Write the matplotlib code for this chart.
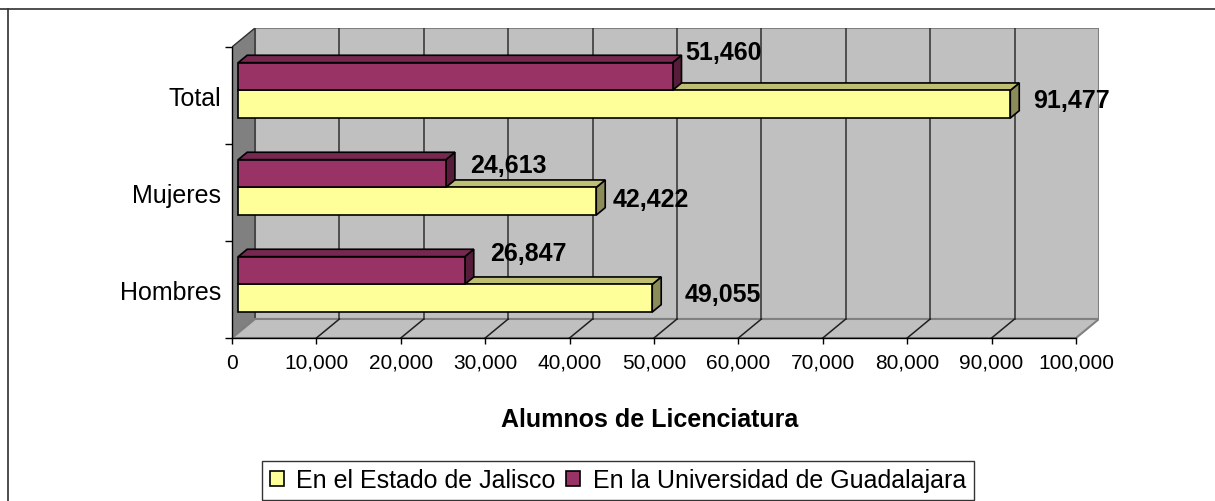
import matplotlib
matplotlib.use('Agg')
import matplotlib.pyplot as plt
from matplotlib.patches import Polygon, Rectangle, Patch
from matplotlib.lines import Line2D

# ---------------- data ----------------
categories = ['Hombres', 'Mujeres', 'Total']
jalisco = [49055, 42422, 91477]
udg = [26847, 24613, 51460]
series_names = ['En el Estado de Jalisco', 'En la Universidad de Guadalajara']
x_max = 100000
x_step = 10000
x_label = 'Alumnos de Licenciatura'

# ---------------- styling / geometry ----------------
W, H, DPI = 1215, 502, 100
plt.rcParams['font.family'] = ['Liberation Sans', 'DejaVu Sans']

PX_PER_VAL = 844 / x_max      # front plane scale
PX_PER_CAT = 97
DEPTH_PX_X, DEPTH_PX_Y = 23, 19
DX = DEPTH_PX_X / PX_PER_VAL
DY = DEPTH_PX_Y / PX_PER_CAT
ncat = len(categories)
h = 1 / 3.5                  # bar height (gap width 150%)
d0, d1 = 0.27, 0.66          # bar depth range (fraction of floor depth)

yellow = dict(front='#FFFF99', top='#BFBF73', side='#8C8C5A')
purple = dict(front='#993366', top='#762850', side='#561C3A')
series_colors = [yellow, purple]
# label offsets in pixels (right of bar end, above bar centre) [series][category]
label_offsets = [[(32, 6), (16, 4), (23, 6)],
                 [(25, 20), (24, 11), (13, 27)]]

fig = plt.figure(figsize=(W / DPI, H / DPI), dpi=DPI)
ax_left_px, ax_bottom_px = 232, 339
ax_w_px = x_max * PX_PER_VAL + DEPTH_PX_X
ax_h_px = ncat * PX_PER_CAT + DEPTH_PX_Y
ax = fig.add_axes([ax_left_px / W, (H - ax_bottom_px) / H, ax_w_px / W, ax_h_px / H])
ax.set_xlim(0, x_max + DX)
ax.set_ylim(-0.5, ncat - 0.5 + DY)
ax.patch.set_visible(False)


def P(v, y, d):
    return (v + d * DX, y + d * DY)


y_lo, y_hi = -0.5, ncat - 0.5
# back wall
ax.add_patch(Rectangle(P(0, y_lo, 1), x_max, ncat, facecolor='#C0C0C0',
                       edgecolor='#808080', lw=1.5, zorder=0.5))
# side wall
ax.add_patch(Polygon([P(0, y_lo, 0), P(0, y_hi, 0), P(0, y_hi, 1), P(0, y_lo, 1)],
                     closed=True, facecolor='#808080', edgecolor='#303030', lw=1.0, zorder=0.6))
# floor
ax.add_patch(Polygon([P(0, y_lo, 0), P(x_max, y_lo, 0), P(x_max, y_lo, 1), P(0, y_lo, 1)],
                     closed=True, facecolor='#C0C0C0', edgecolor='#808080', lw=1.5, zorder=0.6))
# gridlines on wall and floor
xticks = list(range(0, x_max + 1, x_step))
for v in xticks[1:-1]:
    xs, ys = zip(P(v, y_lo, 1), P(v, y_hi, 1))
    ax.plot(xs, ys, color='#303030', lw=1.1, zorder=0.7)
    xs, ys = zip(P(v, y_lo, 0), P(v, y_lo, 1))
    ax.plot(xs, ys, color='#202020', lw=1.1, zorder=0.7)

# bars
for i in range(ncat):
    for s, vals in enumerate([jalisco, udg]):
        v = vals[i]
        c = series_colors[s]
        yb = i - h if s == 0 else i
        yt = yb + h
        z = 2 + i * 0.1 + s * 0.05
        ax.add_patch(Polygon([P(v, yb, d0), P(v, yt, d0), P(v, yt, d1), P(v, yb, d1)],
                             closed=True, facecolor=c['side'], edgecolor='black', lw=1.2, zorder=z))
        ax.add_patch(Polygon([P(0, yt, d0), P(v, yt, d0), P(v, yt, d1), P(0, yt, d1)],
                             closed=True, facecolor=c['top'], edgecolor='black', lw=1.2, zorder=z))
        ax.barh(yb + h / 2 + d0 * DY, v, left=d0 * DX, height=h, color=c['front'],
                edgecolor='black', lw=1.2, zorder=z + 0.01)
        # data label
        ox, oy = label_offsets[s][i]
        ax.annotate(f'{v:,}', xy=P(v, yb + h / 2, d0), xytext=(ox, oy - 9),
                    textcoords='offset pixels', ha='left', va='baseline',
                    fontsize=18, fontweight='bold', color='black', zorder=10,
                    annotation_clip=False)

# axes lines / ticks
for sp in ['top', 'right']:
    ax.spines[sp].set_visible(False)
ax.spines['bottom'].set_bounds(0, x_max)
ax.spines['left'].set_bounds(y_lo, y_hi)
for sp in ['bottom', 'left']:
    ax.spines[sp].set_linewidth(1.0)
    ax.spines[sp].set_zorder(3)
ax.set_xticks(xticks)
ax.set_xticklabels([f'{t:,}' for t in xticks])
ax.tick_params(axis='x', direction='out', length=4.5, width=1.0, pad=6, labelsize=15)
ax.set_yticks(range(ncat))
ax.set_yticklabels(categories)
ax.set_yticks([k - 0.5 for k in range(ncat + 1)], minor=True)
ax.tick_params(axis='y', which='major', length=0, pad=8, labelsize=18)
ax.tick_params(axis='y', which='minor', direction='out', length=5, width=1.0)

# x axis title
fig.text(650 / W, (H - 427) / H, x_label, ha='center', va='baseline',
         fontsize=18, fontweight='bold')

# legend
handles = [Patch(facecolor=series_colors[k]['front'], edgecolor='black', lw=1.2)
           for k in range(2)]
leg = fig.legend(handles, series_names, loc='upper left', ncol=2,
                 bbox_to_anchor=(262 / W, (H - 462) / H), fontsize=18,
                 frameon=True, fancybox=False, shadow=False, borderpad=0.3,
                 handlelength=0.56, handleheight=0.56, handletextpad=0.5,
                 columnspacing=0.44, borderaxespad=0)
leg.get_frame().set_edgecolor('black')
leg.get_frame().set_linewidth(1.0)

# outer chart border
fig.add_artist(Line2D([0, 1], [(H - 10) / H] * 2, transform=fig.transFigure,
                      color='#303030', lw=1.2))
fig.add_artist(Line2D([8 / W] * 2, [0, (H - 10) / H], transform=fig.transFigure,
                      color='#303030', lw=1.2))

fig.savefig('out.png', dpi=DPI)
